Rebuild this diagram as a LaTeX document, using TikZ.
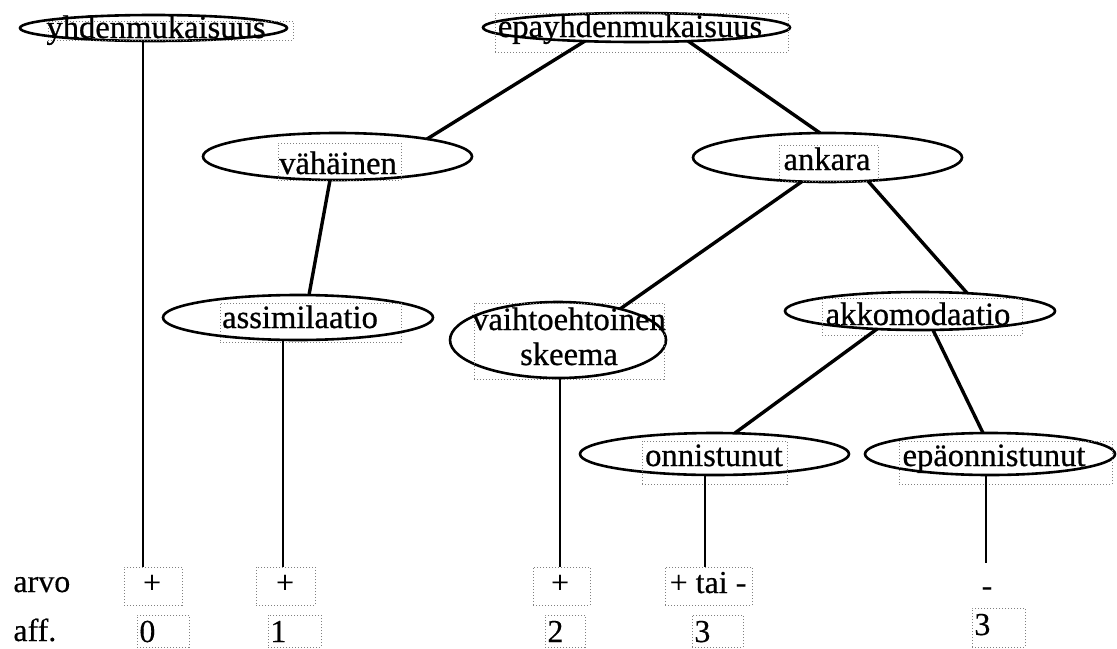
\documentclass[tikz,border=0pt]{standalone}
\usepackage{fontspec}
\newfontfamily\tnrfont[FakeBold=0.3]{Liberation Serif}
\newfontfamily\lblfont[FakeBold=0.7]{Liberation Serif}
\usetikzlibrary{shapes.geometric}
\begin{document}
\begin{tikzpicture}[x=0.5pt,y=-0.5pt,
  ell/.style={ellipse, draw, line width=1.3pt, inner sep=0pt},
  tbox/.style={rectangle, draw=black!50, densely dotted, line width=0.5pt, inner sep=0pt},
  lbl/.style={inner sep=0pt, font=\lblfont\fontsize{16.3}{18}\selectfont, anchor=base},
  blbl/.style={inner sep=0pt, font=\tnrfont\fontsize{16}{18}\selectfont, anchor=base},
  bwlbl/.style={blbl, anchor=base west},
  con/.style={line width=1.7pt},
  vcon/.style={line width=1.1pt}]
\useasboundingbox (0,0) rectangle (1117,648);

% ellipses
\node[ell, minimum width=133.5pt, minimum height=13pt] (yhdE) at (153.5,28) {};
\node[ell, minimum width=153.5pt, minimum height=14.5pt] (epayE) at (636.5,27.5) {};
\node[ell, minimum width=134.5pt, minimum height=23.5pt] (vahE) at (337.5,156.5) {};
\node[ell, minimum width=134.5pt, minimum height=24.5pt] (ankE) at (827.5,157.5) {};
\node[ell, minimum width=135pt, minimum height=22.5pt] (assE) at (298,317.5) {};
\node[ell, minimum width=108pt, minimum height=38pt] (vaiE) at (558,340) {};
\node[ell, minimum width=135pt, minimum height=19pt] (akkE) at (920,311) {};
\node[ell, minimum width=134.5pt, minimum height=21pt] (onnE) at (714.5,454) {};
\node[ell, minimum width=125pt, minimum height=21pt] (epoE) at (990,454) {};

% text frames
\node[tbox, minimum width=122.5pt, minimum height=9.5pt] (yhdF) at (170.5,30.5) {};
\node[tbox, minimum width=146.5pt, minimum height=19.5pt] (epayF) at (641.5,32.5) {};
\node[tbox, minimum width=61.5pt, minimum height=18.5pt] (vahF) at (339.5,161.5) {};
\node[tbox, minimum width=49.5pt, minimum height=18pt] (ankF) at (828.5,163) {};
\node[tbox, minimum width=90.5pt, minimum height=19.5pt] (assF) at (310.5,322.5) {};
\node[tbox, minimum width=95pt, minimum height=38pt] (vaiF) at (569,341) {};
\node[tbox, minimum width=100pt, minimum height=18.5pt] (akkF) at (922,316.5) {};
\node[tbox, minimum width=72.5pt, minimum height=21.5pt] (onnF) at (714.5,462.5) {};
\node[tbox, minimum width=106.5pt, minimum height=21.5pt] (epoF) at (1005.5,462.5) {};

% texts
\node[lbl] (yhdT) at (156,38) {yhdenmukaisuus};
\node[lbl] (epayT) at (630,37) {epayhdenmukaisuus};
\node[lbl] (vahT) at (338,174) {vähäinen};
\node[lbl] (ankT) at (827,170) {ankara};
\node[lbl] (assT) at (300,328) {assimilaatio};
\node[lbl] (vaiT1) at (569,330) {vaihtoehtoinen};
\node[lbl] (vaiT2) at (569,365) {skeema};
\node[lbl] (akkT) at (918,325) {akkomodaatio};
\node[lbl] (onnT) at (714,466) {onnistunut};
\node[lbl] (epoT) at (994,466) {epäonnistunut};

% bottom frames
\node[tbox, minimum width=29pt, minimum height=19pt] (p1) at (153,586) {};
\node[tbox, minimum width=29.5pt, minimum height=19pt] (p2) at (285.5,586) {};
\node[tbox, minimum width=28.5pt, minimum height=19pt] (p3) at (561.5,586) {};
\node[tbox, minimum width=43.5pt, minimum height=19pt] (p4) at (708.5,586) {};
\node[tbox, minimum width=26pt, minimum height=16pt] (a1) at (163,631) {};
\node[tbox, minimum width=26.5pt, minimum height=16pt] (a2) at (294.5,631) {};
\node[tbox, minimum width=20pt, minimum height=16pt] (a3) at (565,631) {};
\node[tbox, minimum width=25.5pt, minimum height=16pt] (a4) at (717.5,631) {};
\node[tbox, minimum width=26.5pt, minimum height=19.5pt] (a5) at (998.5,627.5) {};

% bottom texts
\node[bwlbl] (arvoT) at (13,592) {arvo};
\node[bwlbl] (affT) at (13,641) {aff.};
\node[blbl] (p1T) at (152,593) {+};
\node[blbl] (p2T) at (285,593) {+};
\node[blbl] (p3T) at (560,593) {+};
\node[blbl] (p4T) at (708,593) {+ tai -};
\node[blbl] (m5T) at (987,596) {-};
\node[bwlbl] (a1T) at (139,642) {0};
\node[bwlbl] (a2T) at (270,642) {1};
\node[bwlbl] (a3T) at (547,642) {2};
\node[bwlbl] (a4T) at (694,642) {3};
\node[bwlbl] (a5T) at (974,635) {3};

\coordinate (e5) at (986,563);

% diagonal connectors
\draw[con] ([shift={(-51.5,13.5)}]epayE.center) -- ([shift={(89.5,-17.5)}]vahE.center);
\draw[con] ([shift={(51.5,13.5)}]epayE.center) -- ([shift={(-7.5,-24.5)}]ankE.center);
\draw[con] ([shift={(-7.5,23.5)}]vahE.center) -- ([shift={(11,-22.5)}]assE.center);
\draw[con] ([shift={(-25.5,24)}]ankE.center) -- ([shift={(62,-31)}]vaiE.center);
\draw[con] ([shift={(40.5,23.5)}]ankE.center) -- ([shift={(47,-18)}]akkE.center);
\draw[con] ([shift={(-43,18)}]akkE.center) -- ([shift={(20.5,-21)}]onnE.center);
\draw[con] ([shift={(13,19)}]akkE.center) -- ([shift={(-7,-21)}]epoE.center);

% vertical connectors
\draw[vcon] ([shift={(-10.5,13)}]yhdE.center) -- ([shift={(-10,0)}]p1.north);
\draw[vcon] ([shift={(-15,22)}]assE.center) -- ([shift={(-2.5,0)}]p2.north);
\draw[vcon] ([shift={(2,38)}]vaiE.center) -- ([shift={(-1.5,0)}]p3.north);
\draw[vcon] ([shift={(-9.5,21)}]onnE.center) -- ([shift={(-3.5,0)}]p4.north);
\draw[vcon] ([shift={(-4,21)}]epoE.center) -- (e5);
\end{tikzpicture}
\end{document}
